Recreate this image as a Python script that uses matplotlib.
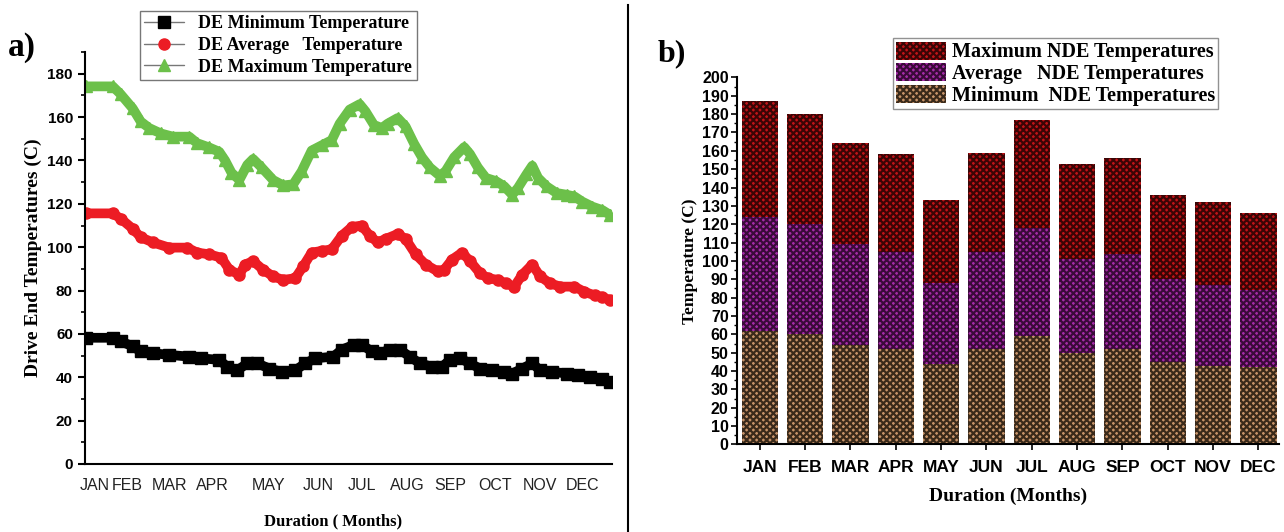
import numpy as np
import matplotlib
matplotlib.use("Agg")
import matplotlib.pyplot as plt
from matplotlib.ticker import MultipleLocator

# ---- panel a) drive end temperatures over the year ----
month_labels = ["JAN", "FEB", "MAR", "APR", "MAY", "JUN", "JUL", "AUG", "SEP", "OCT", "NOV", "DEC"]
month_pos_a = [1.9, 8.0, 16.1, 24.2, 34.8, 44.3, 52.5, 61.2, 69.2, 77.7, 86.3, 94.4]

max_x = [0.2, 5.3, 6.8, 9.1, 10.6, 12.2, 14.4, 16.7, 19.8, 21.3, 23.6, 25.5, 26.6, 27.8, 29.3,
         30.8, 31.9, 33.5, 35.7, 37.6, 39.5, 41.1, 43.0, 44.9, 46.8, 48.3, 50.2, 52.1, 53.2,
         54.8, 56.3, 57.4, 59.3, 60.8, 62.4, 63.9, 65.4, 67.3, 68.4, 70.0, 71.9, 73.0, 74.5,
         76.0, 77.9, 79.5, 81.0, 82.1, 83.7, 84.8, 85.9, 87.5, 89.4, 91.3, 92.8, 94.3, 96.2,
         98.1, 99.6]
max_t = [174.2, 174.2, 170.6, 164.0, 158.0, 155.0, 152.5, 151.0, 151.0, 148.0, 146.0, 144.0,
         140.0, 134.4, 131.0, 138.0, 140.7, 136.8, 131.0, 128.5, 129.0, 135.0, 144.6, 147.0,
         149.4, 157.0, 163.5, 166.0, 162.7, 156.4, 155.0, 157.0, 159.6, 155.7, 147.8, 141.5,
         136.8, 132.9, 135.2, 141.5, 146.2, 143.0, 136.8, 132.0, 130.5, 128.1, 124.2, 127.4,
         133.6, 137.6, 132.0, 128.1, 125.0, 124.2, 123.4, 121.0, 118.7, 117.1, 114.8]

avg_x = [0.2, 5.3, 6.8, 9.1, 10.6, 12.9, 16.0, 19.4, 21.3, 23.6, 25.9, 27.4, 29.3, 30.4, 31.9,
         33.8, 35.7, 37.6, 39.9, 41.4, 43.0, 44.9, 46.8, 48.7, 50.6, 52.5, 54.0, 55.5, 57.0,
         59.3, 60.8, 62.7, 64.6, 66.9, 68.1, 69.6, 71.5, 73.0, 74.9, 76.4, 78.3, 79.8, 81.4,
         82.9, 84.8, 86.3, 88.2, 90.1, 92.8, 94.7, 96.6, 98.1, 99.6]
avg_t = [115.6, 115.6, 113.2, 108.5, 104.6, 102.2, 99.8, 99.8, 97.5, 96.7, 95.1, 89.6, 87.3,
         92.0, 93.6, 89.6, 86.5, 84.9, 85.7, 91.2, 97.5, 98.3, 99.0, 105.3, 109.3, 110.0, 105.3,
         102.2, 103.8, 106.1, 103.8, 96.7, 92.0, 88.8, 89.6, 94.3, 97.5, 93.6, 88.0, 85.7, 84.9,
         83.3, 81.8, 87.3, 92.0, 86.5, 83.3, 81.8, 81.8, 79.4, 77.8, 77.0, 75.5]

min_x = [0.2, 5.3, 6.8, 9.1, 10.6, 12.9, 16.0, 19.8, 22.1, 25.5, 27.0, 28.9, 30.8, 32.7, 35.0,
         37.3, 39.9, 41.8, 43.7, 47.1, 48.7, 51.0, 52.5, 54.4, 55.9, 57.8, 59.7, 61.6, 63.5,
         65.8, 67.7, 69.2, 71.1, 73.0, 74.9, 77.2, 79.5, 81.0, 82.9, 84.8, 86.3, 88.6, 91.3,
         93.5, 95.8, 98.1, 99.6]
min_t = [58.2, 58.2, 56.6, 54.2, 51.9, 51.1, 50.3, 49.5, 48.7, 48.0, 44.8, 43.2, 46.4, 46.4,
         44.0, 42.5, 43.2, 46.4, 48.7, 49.5, 52.7, 55.0, 55.0, 51.9, 51.1, 52.7, 52.7, 49.5,
         46.4, 44.8, 44.8, 48.0, 48.7, 46.4, 44.0, 43.2, 42.5, 41.7, 44.0, 46.4, 43.2, 42.5,
         41.7, 40.9, 40.1, 39.3, 37.7]

# ---- panel b) non drive end temperatures, stacked per month ----
nde_min = [62, 60, 54, 52, 44, 52, 59, 50, 52, 45, 43, 42]
nde_avg = [62, 60, 55, 53, 44, 53, 59, 51, 52, 45, 44, 42]
nde_max = [63, 60, 55, 53, 45, 54, 59, 52, 52, 46, 45, 42]

serif = ["Liberation Serif", "DejaVu Serif"]
sans = ["Liberation Sans", "DejaVu Sans"]
plt.rcParams["hatch.linewidth"] = 1.6

fig = plt.figure(figsize=(12.84, 5.32), dpi=100)

# panel a
ax1 = fig.add_axes([0.066, 0.128, 0.411, 0.774])
ax1.plot(min_x, min_t, color="black", lw=7, marker="s", ms=8, label="DE Minimum Temperature",
         solid_joinstyle="round", solid_capstyle="round")
ax1.plot(avg_x, avg_t, color="#ec1c24", lw=7, marker="o", ms=8, label="DE Average   Temperature",
         solid_joinstyle="round", solid_capstyle="round")
ax1.plot(max_x, max_t, color="#6cc04a", lw=7, marker="^", ms=9, label="DE Maximum Temperature",
         solid_joinstyle="round", solid_capstyle="round")
ax1.set_xlim(0, 100)
ax1.set_ylim(0, 190)
ax1.yaxis.set_major_locator(MultipleLocator(20))
ax1.yaxis.set_minor_locator(MultipleLocator(10))
ax1.set_xticks(month_pos_a)
ax1.set_xticklabels(month_labels, family=sans, fontsize=11.5, color="#222222")
ax1.tick_params(axis="x", length=0, pad=10)
ax1.tick_params(axis="y", which="major", length=5, width=1.5, labelsize=11)
ax1.tick_params(axis="y", which="minor", length=3, width=1.2)
for lab in ax1.get_yticklabels():
    lab.set_fontweight("bold")
    lab.set_family(sans)
ax1.spines["top"].set_visible(False)
ax1.spines["right"].set_visible(False)
ax1.spines["left"].set_linewidth(1.5)
ax1.spines["bottom"].set_linewidth(1.5)
ax1.set_ylabel("Drive End Temperatures (C)", family=serif, fontweight="bold", fontsize=14)
ax1.set_xlabel("Duration ( Months)", family=serif, fontweight="bold", fontsize=12, labelpad=12)
ax1.xaxis.set_label_coords(0.47, -0.12)
leg1 = ax1.legend(loc="upper left", bbox_to_anchor=(0.104, 1.10), frameon=True, fancybox=False,
                  edgecolor="#555555", prop={"family": serif, "weight": "bold", "size": 13},
                  handlelength=2.2, borderpad=0.25, labelspacing=0.25, borderaxespad=0)
for hl in leg1.get_lines():
    hl.set_linewidth(1)
    hl.set_color("#777777")
    hl.set_markersize(8)
leg1.legend_handles[0].set_markerfacecolor("black")
leg1.legend_handles[0].set_markeredgecolor("black")
leg1.legend_handles[1].set_markerfacecolor("#ec1c24")
leg1.legend_handles[1].set_markeredgecolor("#ec1c24")
leg1.legend_handles[2].set_markerfacecolor("#6cc04a")
leg1.legend_handles[2].set_markeredgecolor("#6cc04a")
fig.text(0.006, 0.895, "a)", family=serif, fontweight="bold", fontsize=24)

# separator between panels
fig.add_artist(plt.Line2D([0.489, 0.489], [0.0, 0.99], color="black", lw=1.5))

# panel b
ax2 = fig.add_axes([0.574, 0.1645, 0.422, 0.690])
xb = np.arange(len(month_labels))
b_min = np.array(nde_min)
b_avg = np.array(nde_avg)
b_max = np.array(nde_max)
ax2.bar(xb, b_min, width=0.8, color="#c8946a", edgecolor="#3a2a1a", hatch="xxxxx", lw=0,
        label="Minimum  NDE Temperatures")
ax2.bar(xb, b_avg, width=0.8, bottom=b_min, color="#a62ca8", edgecolor="#3a0a3a", hatch="xxxxx",
        lw=0, label="Average   NDE Temperatures")
ax2.bar(xb, b_max, width=0.8, bottom=b_min + b_avg, color="#c01418", edgecolor="#3a0505",
        hatch="xxxxx", lw=0, label="Maximum NDE Temperatures")
ax2.set_xlim(-0.5, 11.45)
ax2.set_ylim(0, 200)
ax2.yaxis.set_major_locator(MultipleLocator(10))
ax2.yaxis.set_minor_locator(MultipleLocator(5))
ax2.set_xticks(xb)
ax2.set_xticklabels(month_labels, family=sans, fontweight="bold", fontsize=12.5)
ax2.tick_params(axis="x", length=4, width=1.2, pad=7)
ax2.tick_params(axis="y", which="major", length=4, width=1.2, labelsize=11.5, pad=2)
ax2.tick_params(axis="y", which="minor", length=2, width=1)
for lab in ax2.get_yticklabels():
    lab.set_fontweight("bold")
    lab.set_family(sans)
ax2.spines["top"].set_visible(False)
ax2.spines["right"].set_visible(False)
ax2.spines["left"].set_linewidth(1.5)
ax2.spines["bottom"].set_linewidth(1.5)
ax2.set_ylabel("Temperature (C)", family=serif, fontweight="bold", fontsize=12.5, labelpad=3)
ax2.set_xlabel("Duration (Months)", family=serif, fontweight="bold", fontsize=14, labelpad=9)
h, l = ax2.get_legend_handles_labels()
ax2.legend(h[::-1], l[::-1], loc="upper left", bbox_to_anchor=(0.287, 1.106), frameon=True,
           fancybox=False, edgecolor="#777777",
           prop={"family": serif, "weight": "bold", "size": 14.5},
           handlelength=2.5, handleheight=1.0, handletextpad=0.3, borderpad=0.15,
           labelspacing=0.05, borderaxespad=0)
fig.text(0.512, 0.885, "b)", family=serif, fontweight="bold", fontsize=23)

fig.savefig("out.png", dpi=100)
